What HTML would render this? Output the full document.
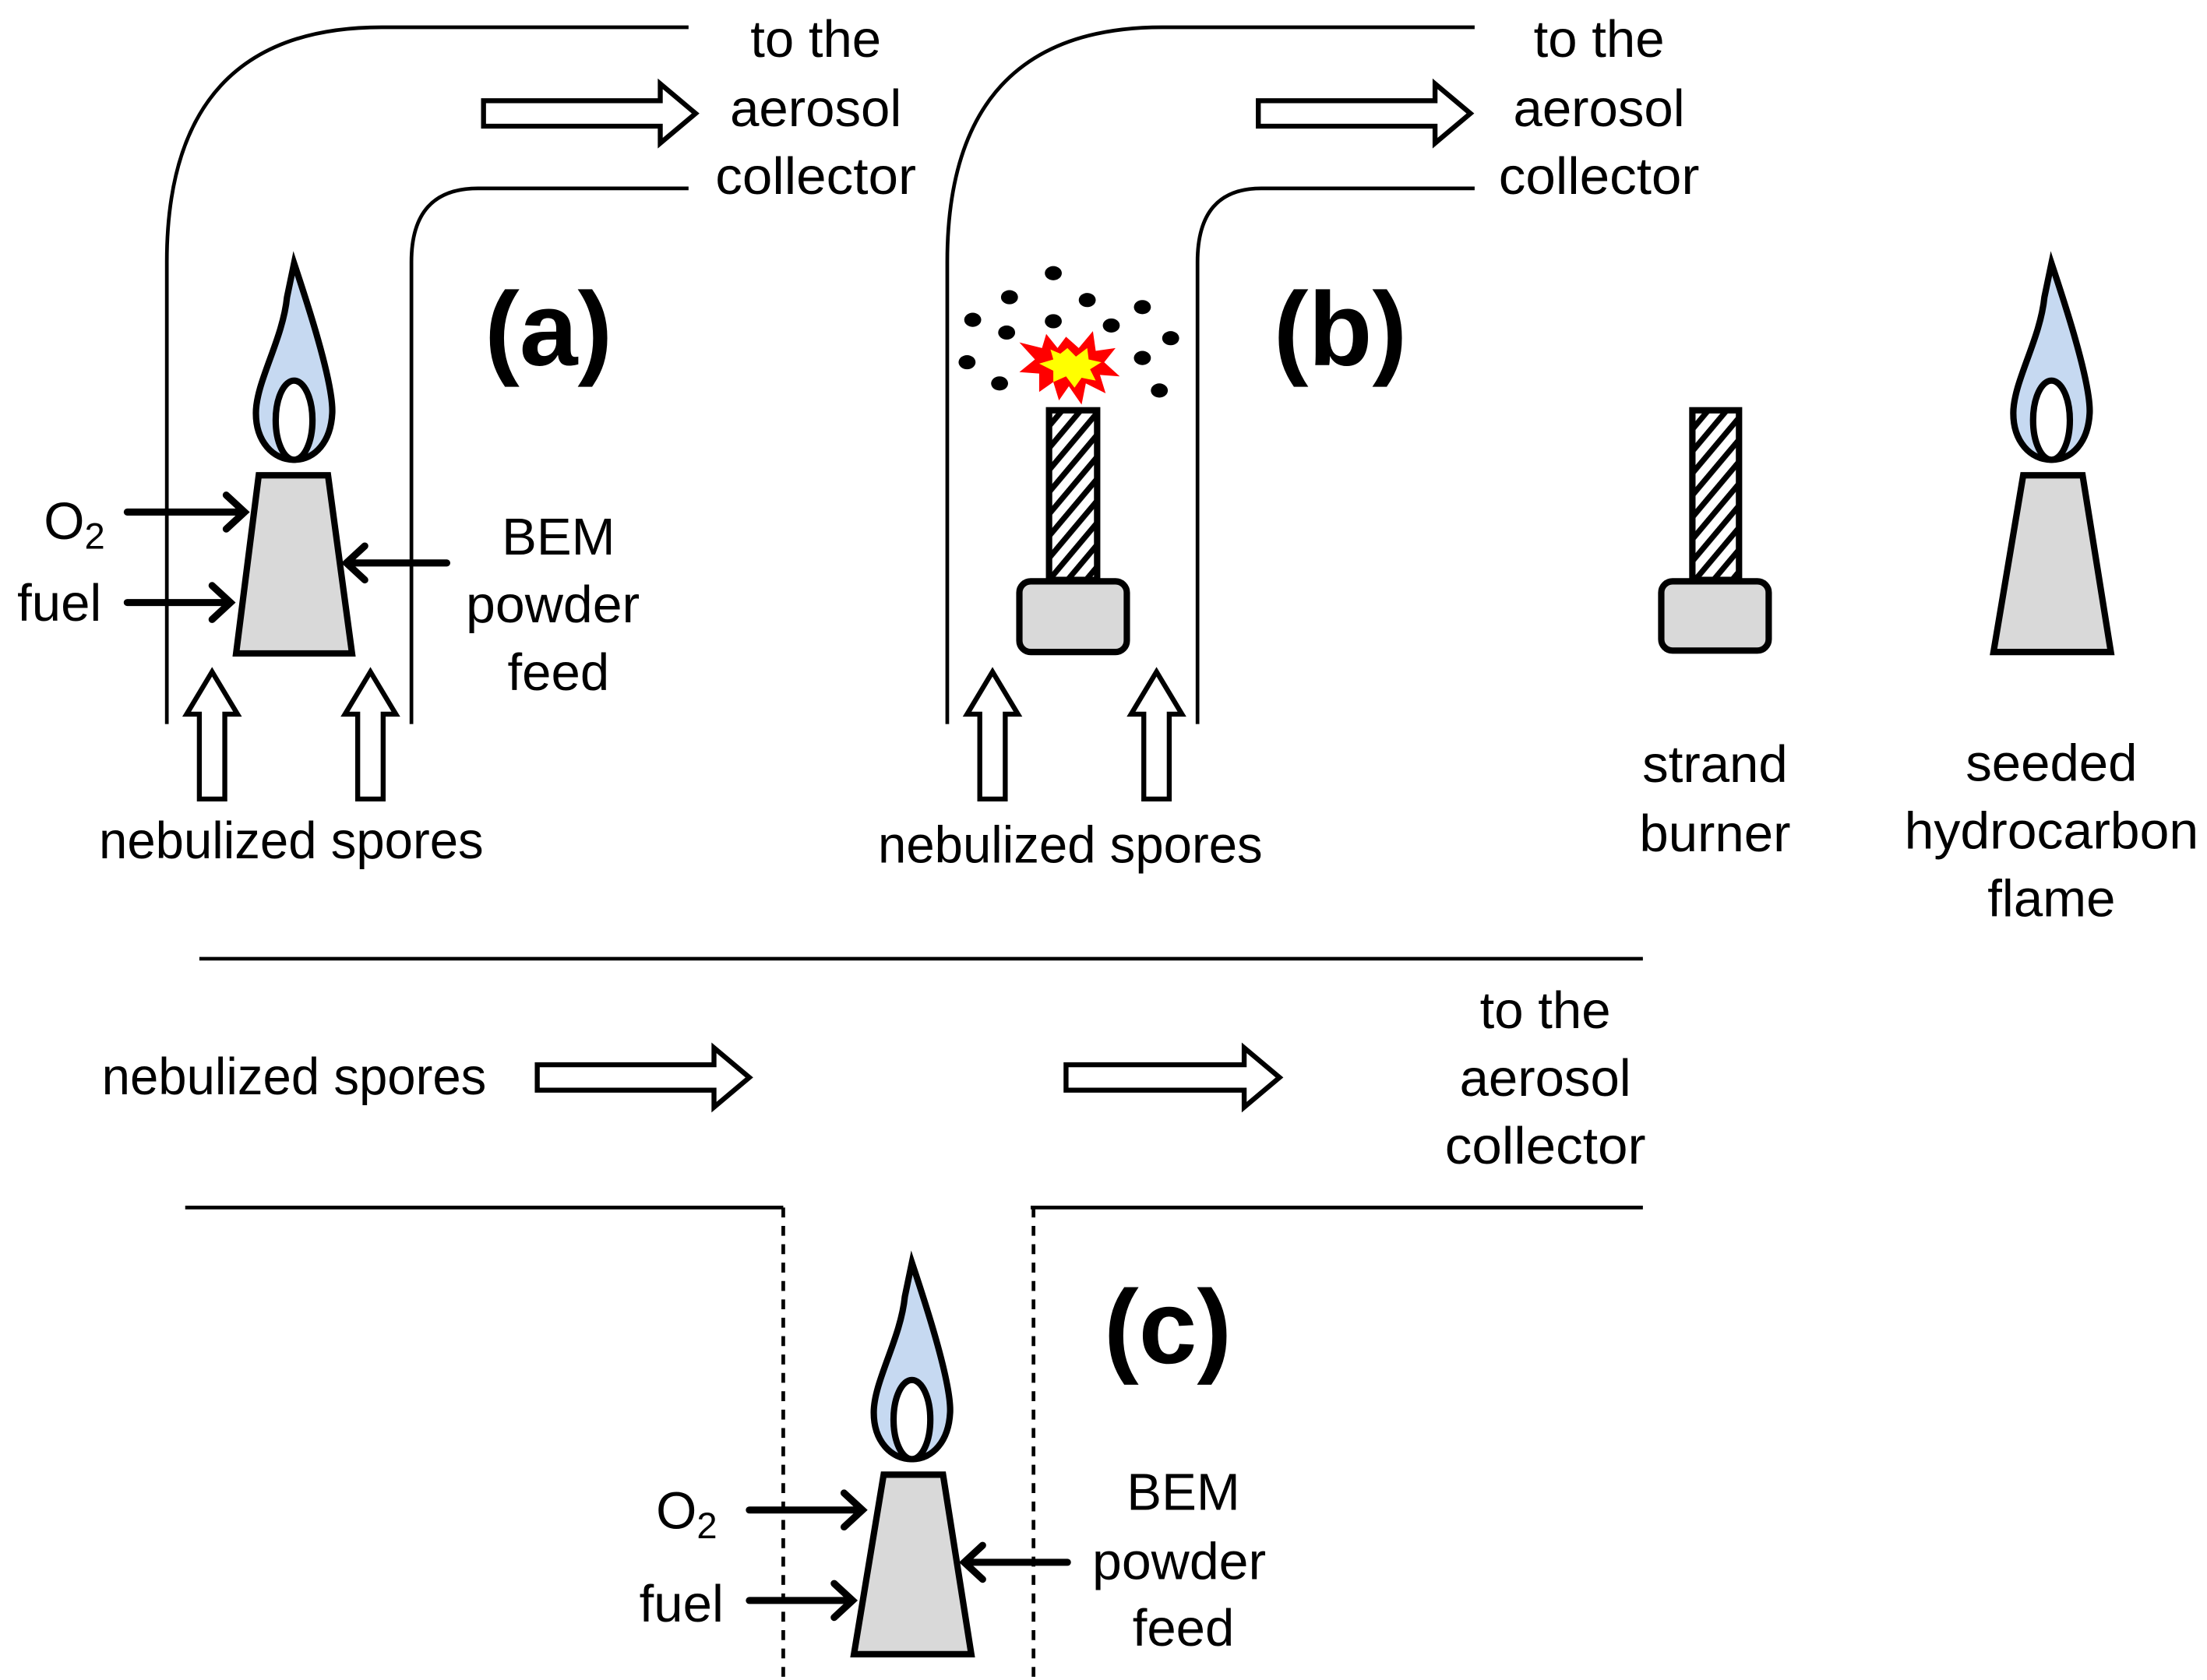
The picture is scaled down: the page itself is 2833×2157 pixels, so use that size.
<!DOCTYPE html>
<html><head><meta charset="utf-8"><style>
html,body{margin:0;padding:0;background:#fff;}
svg{display:block;}
text{font-family:"Liberation Sans",sans-serif;font-size:37px;fill:#000;}
.b{font-weight:bold;font-size:74px;}
</style></head><body>
<svg width="2833" height="2157" viewBox="0 0 1561 1188" xmlns="http://www.w3.org/2000/svg">
<defs>
<pattern id="h" width="10" height="10" patternUnits="userSpaceOnUse" patternTransform="rotate(40)">
<rect width="10" height="10" fill="#fff"/><rect width="4" height="10" fill="#000"/>
</pattern>
<g id="flame">
<path d="M0,0 C8,24 28,84 27,106 C26,126 15,139 0,139 C-15,139 -27,126 -27,106 C-27,84 -8,54 -5,24 Z" fill="#c6d9f1" stroke="#000" stroke-width="4.5"/>
<ellipse cx="0" cy="111" rx="13" ry="28" fill="#fff" stroke="#000" stroke-width="4.5"/>
</g>
</defs>
<g fill="none" stroke="#000" stroke-width="2.6">
<path d="M118,512 V185 Q118,19 270,19 H487"/>
<path d="M291,512 V185 Q291,133 338,133 H487"/>
<path d="M670,512 V185 Q670,19 822,19 H1043"/>
<path d="M847,512 V185 Q847,133 892,133 H1043"/>
<path d="M141,678 H1162"/>
<path d="M131,854 H554 M729,854 H1162"/>
<path d="M554,854 V1188 M731,854 V1188" stroke-dasharray="7,6"/>
</g>
<g fill="#fff" stroke="#000" stroke-width="3.5" stroke-linejoin="miter">
<polygon points="342,71 467,71 467,59 492,80 467,101 467,89 342,89"/>
<polygon points="890,71 1015,71 1015,59 1040,80 1015,101 1015,89 890,89"/>
<polygon points="380,753 505,753 505,741 530,762 505,783 505,771 380,771"/>
<polygon points="754,753 880,753 880,741 905,762 880,783 880,771 754,771"/>
<polygon points="141,565 141,505 132,505 150,475 168,505 159,505 159,565"/>
<polygon points="253,565 253,505 244,505 262,475 280,505 271,505 271,565"/>
<polygon points="693,565 693,505 684,505 702,475 720,505 711,505 711,565"/>
<polygon points="809,565 809,505 800,505 818,475 836,505 827,505 827,565"/>
</g>
<g fill="#d9d9d9" stroke="#000" stroke-width="4.5" stroke-linejoin="miter">
<polygon points="183,336 232,336 249,462 167,462"/>
<polygon points="1431,336 1473,336 1493,461 1410,461"/>
<polygon points="625,1043 667,1043 687,1170 604,1170"/>
<rect x="721" y="411" width="76" height="50" rx="8"/>
<rect x="1175" y="411" width="76" height="49" rx="8"/>
</g>
<g stroke="#000" stroke-width="4.5" fill="url(#h)">
<rect x="742" y="290" width="34" height="120"/>
<rect x="1197" y="290" width="33" height="120"/>
</g>
<use href="#flame" x="208" y="186"/>
<use href="#flame" x="1451" y="186"/>
<use href="#flame" x="645" y="893"/>
<g fill="none" stroke="#000" stroke-width="5" stroke-linecap="round">
<path d="M90,362 H173 M160,350 L173,362 L160,374"/>
<path d="M90,426 H163 M150,414 L163,426 L150,438"/>
<path d="M316,398 H245 M258,386 L245,398 L258,410"/>
<path d="M530,1068 H610 M597,1056 L610,1068 L597,1080"/>
<path d="M530,1132 H603 M590,1120 L603,1132 L590,1144"/>
<path d="M755,1105 H682 M695,1093 L682,1105 L695,1117"/>
</g>
<g fill="#000">
<ellipse cx="745" cy="193" rx="6" ry="5"/><ellipse cx="714" cy="210" rx="6" ry="5"/>
<ellipse cx="769" cy="212" rx="6" ry="5"/><ellipse cx="808" cy="217" rx="6" ry="5"/>
<ellipse cx="688" cy="226" rx="6" ry="5"/><ellipse cx="745" cy="227" rx="6" ry="5"/>
<ellipse cx="712" cy="235" rx="6" ry="5"/><ellipse cx="786" cy="230" rx="6" ry="5"/>
<ellipse cx="828" cy="239" rx="6" ry="5"/><ellipse cx="684" cy="256" rx="6" ry="5"/>
<ellipse cx="808" cy="253" rx="6" ry="5"/><ellipse cx="707" cy="271" rx="6" ry="5"/>
<ellipse cx="820" cy="276" rx="6" ry="5"/>
</g>
<g transform="translate(-3,-2)">
<polygon fill="#ff0000" points="757,240 766,248 776,236 778,250 792,248 784,258 795,268 781,267 785,280 771,273 768,288 759,275 752,285 748,272 738,279 738,266 724,265 735,256 724,244 740,248 743,238 751,248"/>
<polygon fill="#ffff00" points="758,248 764,254 772,248 773,256 782,258 774,263 778,271 768,269 763,276 757,268 748,272 748,264 738,259 748,256 746,249 753,252"/>
</g>
<g text-anchor="middle">
<text x="577" y="40">to the</text>
<text x="577" y="89">aerosol</text>
<text x="577" y="137" textLength="142" lengthAdjust="spacingAndGlyphs">collector</text>
<text x="1131" y="40">to the</text>
<text x="1131" y="89">aerosol</text>
<text x="1131" y="137" textLength="142" lengthAdjust="spacingAndGlyphs">collector</text>
<text x="1093" y="727">to the</text>
<text x="1093" y="775">aerosol</text>
<text x="1093" y="823" textLength="142" lengthAdjust="spacingAndGlyphs">collector</text>
<text x="395" y="392">BEM</text>
<text x="391" y="440" textLength="123" lengthAdjust="spacingAndGlyphs">powder</text>
<text x="395" y="488">feed</text>
<text x="837" y="1068">BEM</text>
<text x="834" y="1117" textLength="123" lengthAdjust="spacingAndGlyphs">powder</text>
<text x="837" y="1164">feed</text>
<text x="206" y="607" textLength="272" lengthAdjust="spacingAndGlyphs">nebulized spores</text>
<text x="757" y="610" textLength="272" lengthAdjust="spacingAndGlyphs">nebulized spores</text>
<text x="208" y="774" textLength="272" lengthAdjust="spacingAndGlyphs">nebulized spores</text>
<text x="1213" y="553">strand</text>
<text x="1213" y="602">burner</text>
<text x="1451" y="552">seeded</text>
<text x="1451" y="600" textLength="208" lengthAdjust="spacingAndGlyphs">hydrocarbon</text>
<text x="1451" y="648">flame</text>
<text x="42" y="439">fuel</text>
<text x="482" y="1147">fuel</text>
<text class="b" x="388" y="258">(a)</text>
<text class="b" x="948" y="258">(b)</text>
<text class="b" x="826" y="964">(c)</text>
</g>
<text x="31" y="381">O<tspan font-size="26" dy="7">2</tspan></text>
<text x="464" y="1081">O<tspan font-size="26" dy="7">2</tspan></text>
</svg>
</body></html>
